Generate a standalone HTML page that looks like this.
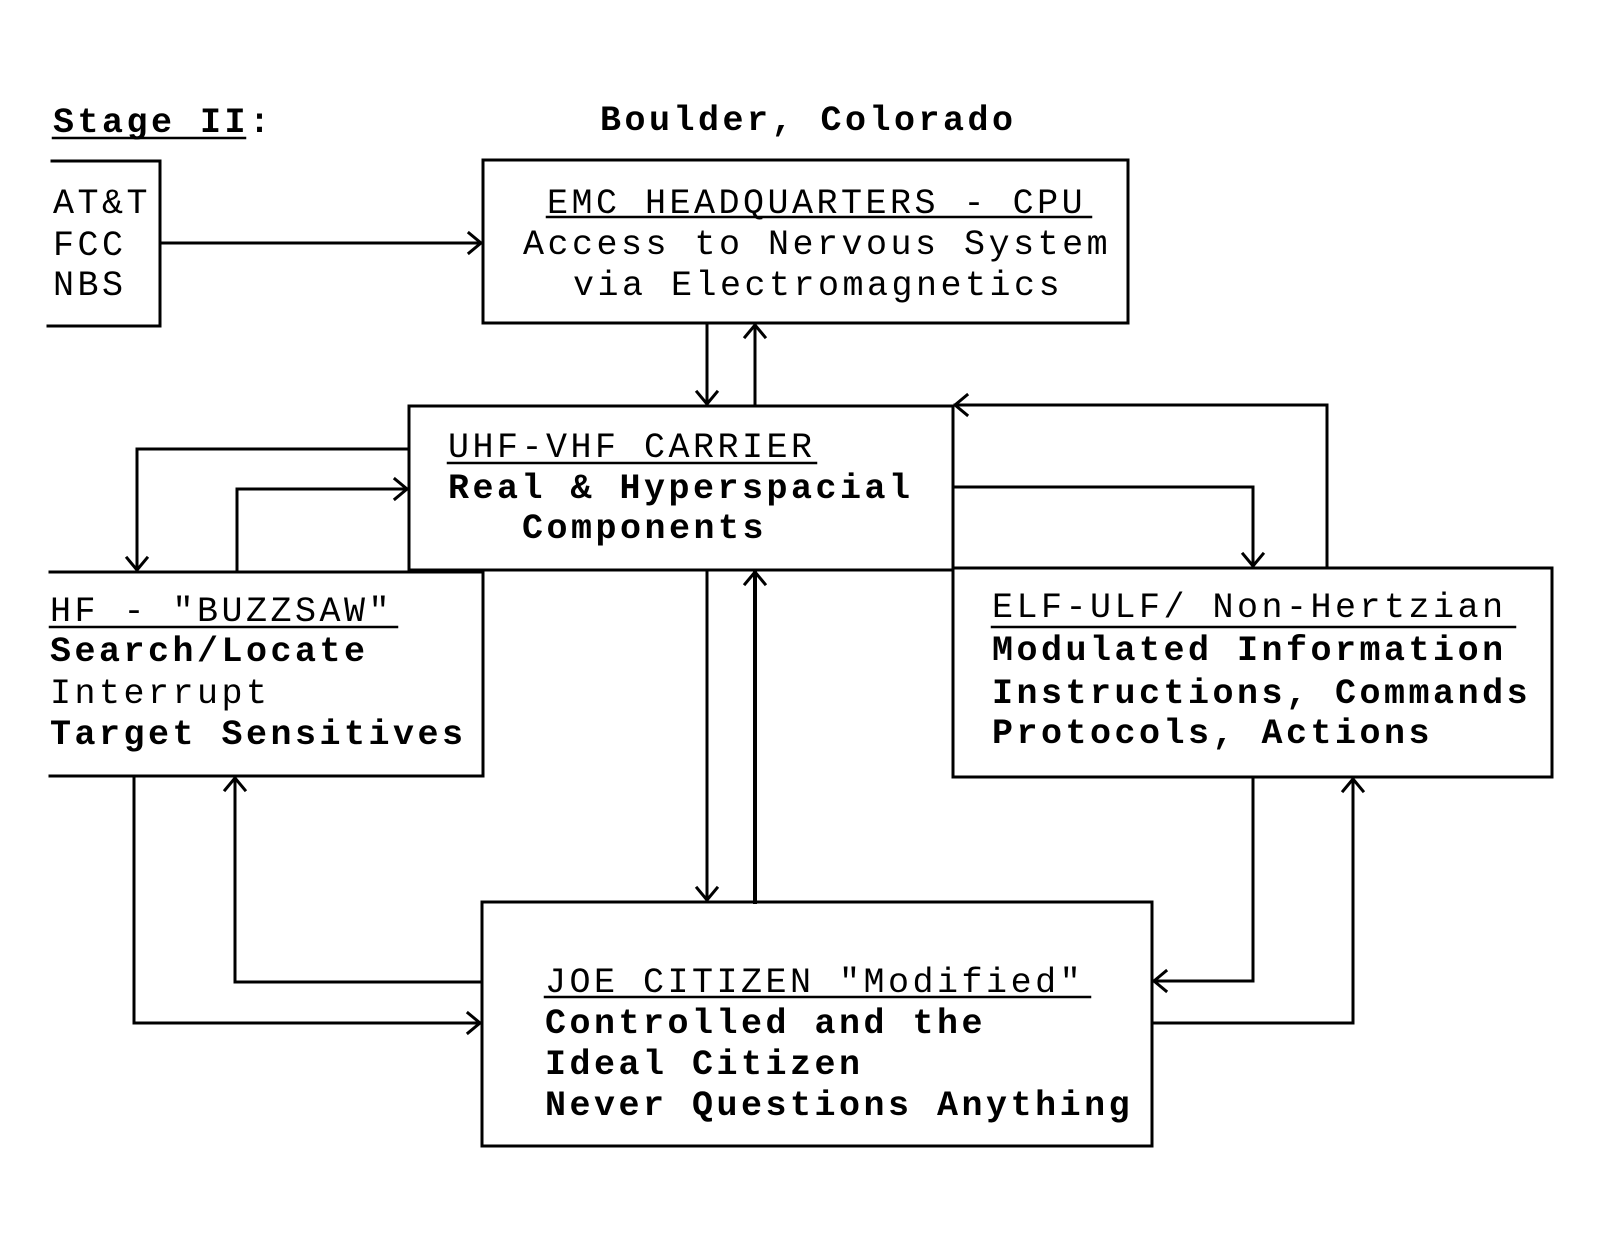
<!DOCTYPE html>
<html>
<head>
<meta charset="utf-8">
<style>
  html, body { margin:0; padding:0; background:#fff; }
  svg { display:block; }
  text { font-family: "Liberation Mono", "DejaVu Sans Mono", monospace; font-size:35px; letter-spacing:3.5px; fill:#000; }
  .b { font-weight:bold; }
</style>
</head>
<body>
<svg width="1604" height="1238" viewBox="0 0 1604 1238" xmlns="http://www.w3.org/2000/svg">
  <rect x="0" y="0" width="1604" height="1238" fill="#fff"/>

  <g fill="none" stroke="#000" stroke-width="3" stroke-linecap="square" stroke-linejoin="miter">
    <!-- Boxes -->
    <path d="M52,161 H160 V326 H48"/>
    <rect x="483" y="160" width="645" height="163"/>
    <rect x="409" y="406" width="544" height="164"/>
    <path d="M50,572 H483 V776 H50"/>
    <rect x="953" y="568" width="599" height="209"/>
    <rect x="482" y="902" width="670" height="244"/>

    <!-- Connectors -->
    <path d="M160,243 H481"/>
    <path d="M707,323 V404"/>
    <path d="M755,406 V325"/>
    <path d="M409,449 H137 V570"/>
    <path d="M237,572 V489 H407"/>
    <path d="M953,487 H1253 V566"/>
    <path d="M1327,568 V405 H955"/>
    <path d="M707,570 V900"/>
    <path d="M755,902 V572" stroke-width="4"/>
    <path d="M134,776 V1023 H480"/>
    <path d="M482,982 H235 V778"/>
    <path d="M1253,777 V981 H1154"/>
    <path d="M1152,1023 H1353 V779"/>

    <!-- Arrowheads (open chevrons) -->
    <!-- right -->
    <path d="M469,233 L481,243 L469,253"/>
    <path d="M395,479 L407,489 L395,499"/>
    <path d="M468,1013 L480,1023 L468,1033"/>
    <!-- down -->
    <path d="M697,392 L707,404 L717,392"/>
    <path d="M127,558 L137,570 L147,558"/>
    <path d="M1243,554 L1253,566 L1263,554"/>
    <path d="M697,888 L707,900 L717,888"/>
    <!-- up -->
    <path d="M745,337 L755,325 L765,337"/>
    <path d="M745,584 L755,572 L765,584"/>
    <path d="M225,790 L235,778 L245,790"/>
    <path d="M1343,791 L1353,779 L1363,791"/>
    <!-- left -->
    <path d="M967,395 L955,405 L967,415"/>
    <path d="M1166,971 L1154,981 L1166,991"/>

    <!-- Underlines -->
    <path d="M53,138 H245" stroke-width="2.5"/>
    <path d="M547,217 H1091" stroke-width="2.5"/>
    <path d="M448,463 H816" stroke-width="2.5"/>
    <path d="M50,627 H397" stroke-width="2.5"/>
    <path d="M992,627 H1515" stroke-width="2.5"/>
    <path d="M545,997 H1090" stroke-width="2.5"/>
  </g>

  <!-- Titles -->
  <text x="53" y="132" class="b">Stage II:</text>
  <text x="600" y="130" class="b">Boulder, Colorado</text>

  <!-- AT&T box -->
  <text x="53" y="213">AT&amp;T</text>
  <text x="53" y="255">FCC</text>
  <text x="53" y="295">NBS</text>

  <!-- EMC box -->
  <text x="547" y="213">EMC HEADQUARTERS - CPU</text>
  <text x="523" y="254">Access to Nervous System</text>
  <text x="573" y="295">via Electromagnetics</text>

  <!-- UHF box -->
  <text x="448" y="457">UHF-VHF CARRIER</text>
  <text x="448" y="498" class="b">Real &amp; Hyperspacial</text>
  <text x="522" y="538" class="b">Components</text>

  <!-- HF box -->
  <text x="50" y="621">HF - "BUZZSAW"</text>
  <text x="50" y="661" class="b">Search/Locate</text>
  <text x="50" y="703">Interrupt</text>
  <text x="50" y="744" class="b">Target Sensitives</text>

  <!-- ELF box -->
  <text x="992" y="617">ELF-ULF/ Non-Hertzian</text>
  <text x="992" y="660" class="b">Modulated Information</text>
  <text x="992" y="703" class="b">Instructions, Commands</text>
  <text x="992" y="743" class="b">Protocols, Actions</text>

  <!-- JOE box -->
  <text x="545" y="992">JOE CITIZEN "Modified"</text>
  <text x="545" y="1033" class="b">Controlled and the</text>
  <text x="545" y="1074" class="b">Ideal Citizen</text>
  <text x="545" y="1115" class="b">Never Questions Anything</text>
</svg>
</body>
</html>
